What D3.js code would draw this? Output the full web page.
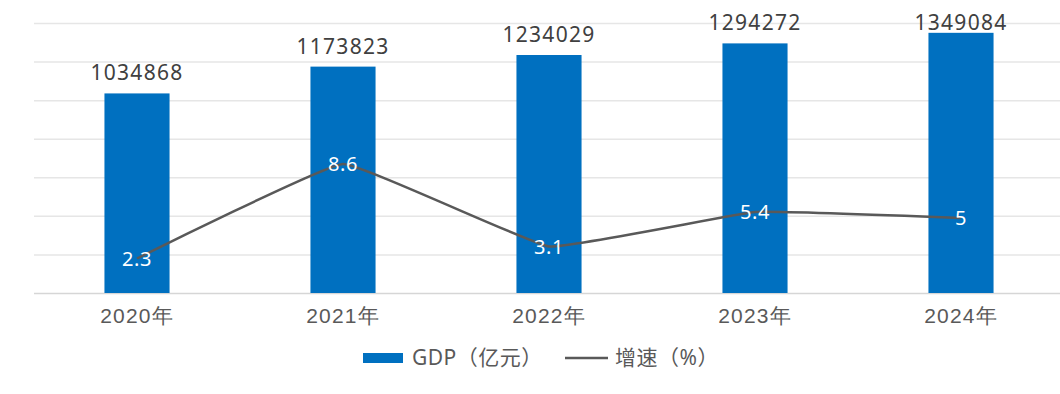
<!DOCTYPE html>
<html>
<head>
<meta charset="utf-8">
<script src="https://cdn.jsdelivr.net/npm/d3@7"></script>
<style>
  html, body { margin: 0; padding: 0; background: #fff; }
  svg { display: block; font-family: "Noto Sans", "Noto Sans CJK SC", sans-serif; }
</style>
</head>
<body>
<div id="chart"></div>
<script>
var years = ["2020年", "2021年", "2022年", "2023年", "2024年"];
var gdp = [1034868, 1173823, 1234029, 1294272, 1349084];
var growth = [2.3, 8.6, 3.1, 5.4, 5];
var gdpTicks = [0, 200000, 400000, 600000, 800000, 1000000, 1200000, 1400000];
var legendNames = ["GDP（亿元）", "增速（%）"];

var width = 1060,
    height = 394,
    margin = {top: 23, right: -4, bottom: 101, left: 34},
    chartWidth = width - margin.left - margin.right,
    chartHeight = height - margin.top - margin.bottom;

var svg = d3.select("#chart").append("svg")
    .attr("width", width)
    .attr("height", height);

var chart = svg.append("g")
    .attr("transform", "translate(" + margin.left + "," + margin.top + ")");

var x = d3.scaleBand()
    .domain(years)
    .range([0, chartWidth])
    .paddingInner(0.684)
    .paddingOuter(0.342);

var y = d3.scaleLinear()
    .domain([0, 1400000])
    .range([chartHeight, 0]);

var y2 = d3.scaleLinear()
    .domain([0, 18])
    .range([chartHeight, 0]);

// gridlines
var grid = d3.axisLeft(y)
    .tickValues(gdpTicks)
    .tickSize(-chartWidth)
    .tickFormat("");

chart.append("g")
    .attr("class", "grid")
    .call(grid)
    .call(function(g){
      g.select(".domain").remove();
      g.selectAll(".tick line")
        .attr("stroke", function(d){ return d === 0 ? "#d6d6d6" : "#e6e6e6"; })
        .attr("stroke-width", 1.5);
    });

// bars
chart.selectAll("rect.bar")
  .data(gdp)
  .enter().append("rect")
  .attr("class", "bar")
  .attr("x", function(d, i){ return x(years[i]); })
  .attr("y", function(d){ return y(d); })
  .attr("width", x.bandwidth())
  .attr("height", function(d){ return chartHeight - y(d); })
  .attr("fill", "#0070C0");

// bar labels (kept inside the top of the plot)
chart.selectAll("text.barlabel")
  .data(gdp)
  .enter().append("text")
  .attr("class", "barlabel")
  .attr("x", function(d, i){ return x(years[i]) + x.bandwidth() / 2; })
  .attr("y", function(d){ return Math.max(y(d) - 13, 7); })
  .attr("text-anchor", "middle")
  .attr("font-size", 21)
  .attr("letter-spacing", 1.3)
  .attr("fill", "#404040")
  .text(function(d){ return d; });

// x axis
var xAxis = d3.axisBottom(x).tickSize(0).tickPadding(0);

chart.append("g")
    .attr("transform", "translate(0," + chartHeight + ")")
    .call(xAxis)
    .call(function(g){
      g.select(".domain").remove();
      g.selectAll(".tick text")
        .attr("dy", 0)
        .attr("y", 30)
        .attr("font-size", 21)
        .attr("letter-spacing", 1.2)
        .attr("fill", "#595959");
    });

// growth line
var line = d3.line()
    .x(function(d, i){ return x(years[i]) + x.bandwidth() / 2; })
    .y(function(d){ return y2(d); })
    .curve(d3.curveCardinal.tension(0.75));

chart.append("path")
    .datum(growth)
    .attr("fill", "none")
    .attr("stroke", "#595959")
    .attr("stroke-width", 2.5)
    .attr("d", line);

chart.selectAll("text.linelabel")
  .data(growth)
  .enter().append("text")
  .attr("class", "linelabel")
  .attr("x", function(d, i){ return x(years[i]) + x.bandwidth() / 2; })
  .attr("y", function(d){ return y2(d) + 7; })
  .attr("text-anchor", "middle")
  .attr("font-size", 20)
  .attr("letter-spacing", 0.6)
  .attr("fill", "#ffffff")
  .text(function(d){ return d; });

// legend
var legend = svg.append("g")
    .attr("transform", "translate(363,358)");

legend.append("rect")
    .attr("x", 0).attr("y", -5)
    .attr("width", 40).attr("height", 10)
    .attr("fill", "#0070C0");

legend.append("text")
    .attr("x", 49).attr("y", 7)
    .attr("font-size", 21)
    .attr("letter-spacing", 0.5)
    .attr("fill", "#595959")
    .text(legendNames[0]);

legend.append("line")
    .attr("x1", 202).attr("x2", 245)
    .attr("y1", 0).attr("y2", 0)
    .attr("stroke", "#595959")
    .attr("stroke-width", 2.5);

legend.append("text")
    .attr("x", 252).attr("y", 7)
    .attr("font-size", 21)
    .attr("letter-spacing", 0.5)
    .attr("fill", "#595959")
    .text(legendNames[1]);
</script>
</body>
</html>
